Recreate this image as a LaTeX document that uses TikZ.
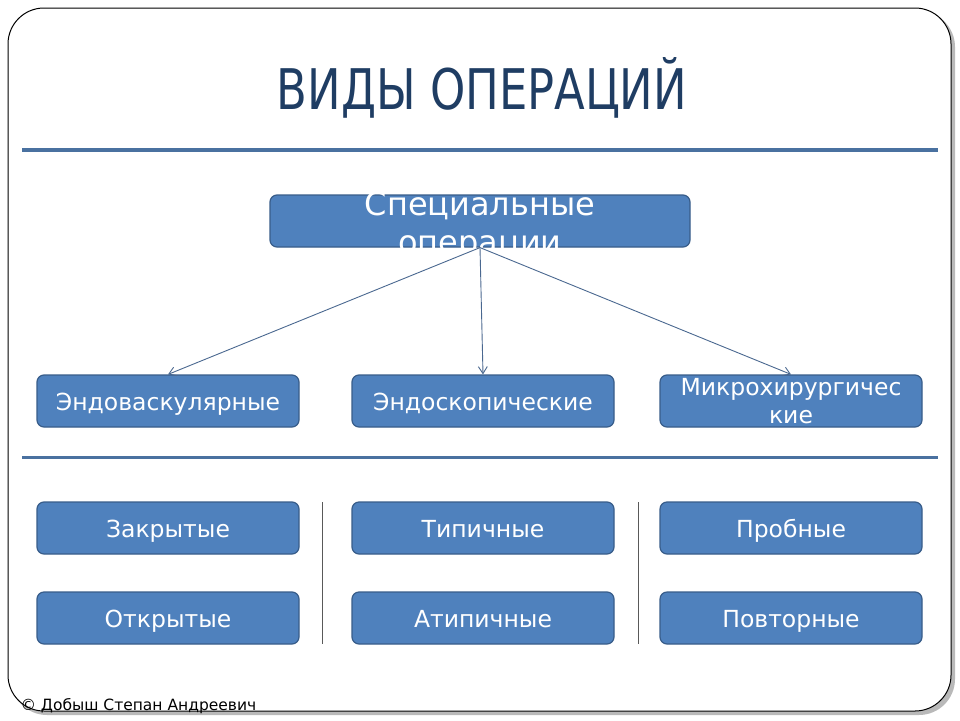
\documentclass[tikz,border=0pt]{standalone}
\usepackage{fontspec}
\setmainfont{DejaVu Sans}
\newfontfamily\titlefont[FakeStretch=0.89]{DejaVu Sans Condensed}
\usetikzlibrary{arrows.meta}
\definecolor{boxblue}{HTML}{4F81BD}
\definecolor{boxedge}{HTML}{385D8A}
\definecolor{rulecol}{HTML}{4A71A0}
\definecolor{titleblue}{HTML}{1F3D63}
\definecolor{arrowcol}{HTML}{4A6890}
\tikzset{
  opbox/.style={draw=boxedge, line width=1.2pt, fill=boxblue, rounded corners=7pt,
    minimum width=262pt, minimum height=52pt, inner sep=0pt, text=white,
    font=\fontsize{23.5}{24}\selectfont, align=center, text height=18pt, text depth=0pt},
  sectrule/.style={rulecol, line width=3.5pt},
  sepline/.style={gray!70!black, line width=1pt},
  branch/.style={arrowcol, line width=0.9pt, -{Straight Barb[length=7pt,width=9pt]}}
}
\begin{document}
\begin{tikzpicture}[x=1pt,y=-1pt]
\useasboundingbox (0,0) rectangle (960,720);
% slide frame
\fill[gray!55, rounded corners=36pt] (11,11) rectangle (955,715);
\draw[black, line width=1pt, fill=white, rounded corners=36pt] (8,8) rectangle (951,711);
% title
\node[text=titleblue, font=\titlefont\fontsize{56}{60}\selectfont] (title) at (482,88) {ВИДЫ ОПЕРАЦИЙ};
\draw[sectrule] (22,150) -- (938,150);
\draw[sectrule, line width=3pt] (22,457) -- (938,457);
% main box
\node[opbox, minimum width=420pt] (spec) at (480,221) {};
\node[text=white, font=\fontsize{32}{38}\selectfont, align=center] (spectext) at (480,226) {Специальные\\операции};
% first row
\node[opbox] (endovask) at (168,401) {Эндоваскулярные};
\node[opbox] (endoskop) at (483,401) {Эндоскопические};
\node[opbox, font=\fontsize{23.5}{28}\selectfont, text height=, text depth=] (mikro) at (791,401) {Микрохирургичес\\кие};
\draw[branch] (spec.south) -- (endovask.north);
\draw[branch] (spec.south) -- (endoskop.north);
\draw[branch] (spec.south) -- (mikro.north);
% lower rows
\node[opbox] (zakr) at (168,528) {Закрытые};
\node[opbox] (tip) at (483,528) {Типичные};
\node[opbox] (prob) at (791,528) {Пробные};
\node[opbox] (otkr) at (168,618) {Открытые};
\node[opbox] (atip) at (483,618) {Атипичные};
\node[opbox] (povt) at (791,618) {Повторные};
\draw[sepline] (322,502) -- (322,644);
\draw[sepline] (638,502) -- (638,644);
% footer
\node[anchor=west, font=\fontsize{15.5}{16}\selectfont] (author) at (17,706) {© Добыш Степан Андреевич};
\end{tikzpicture}
\end{document}
